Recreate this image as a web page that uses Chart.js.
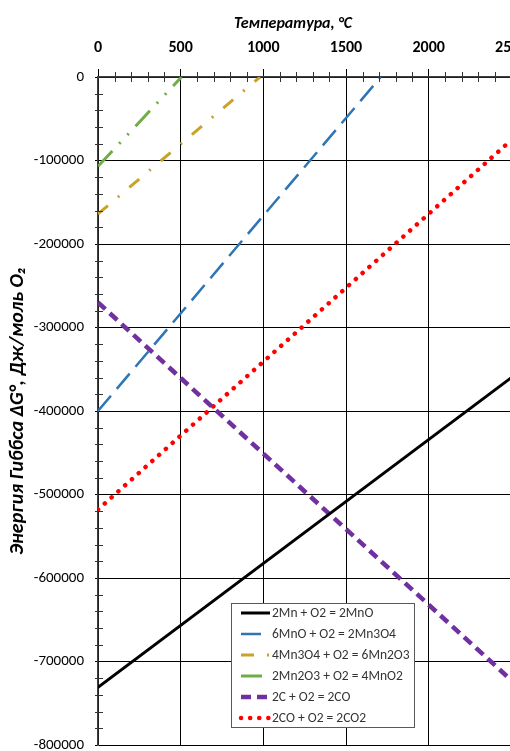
<!DOCTYPE html>
<html>
<head>
<meta charset="utf-8">
<script src="https://cdn.jsdelivr.net/npm/chart.js@4.4.1/dist/chart.umd.min.js"></script>
<style>
  html, body { margin: 0; padding: 0; background: #fff; overflow: hidden; }
  #gibbs { display: block; }
</style>
</head>
<body>
<canvas id="gibbs" width="600" height="751"></canvas>
<script>
// ===== Data =====
const seriesLabels = [
  '2Mn + O2 = 2MnO',
  '6MnO + O2 = 2Mn3O4',
  '4Mn3O4 + O2 = 6Mn2O3',
  '2Mn2O3 + O2 = 4MnO2',
  '2C + O2 = 2CO',
  '2CO + O2 = 2CO2'
];
const mnoT = [0, 2500];
const mnoG = [-731000, -360000];
const mn3o4T = [0, 1710];
const mn3o4G = [-400000, 0];
const mn2o3T = [0, 980];
const mn2o3G = [-164000, 0];
const mno2T = [0, 505];
const mno2G = [-107000, 0];
const coT = [0, 2500];
const coG = [-270000, -722500];
const co2T = [0, 2500];
const co2G = [-518000, -75500];

const tempTicks = [0, 500, 1000, 1500, 2000, 2500, 3000];
const energyTicks = [0, -100000, -200000, -300000, -400000, -500000, -600000, -700000, -800000];

const FONT = 'Carlito, Lato, sans-serif';
const NARROW = '"Liberation Sans Narrow", Carlito, Lato, sans-serif';

function pts(xs, ys) {
  return xs.map((x, i) => ({ x: x, y: ys[i] }));
}

const styles = [
  { color: '#000000', width: 3, dash: [] },
  { color: '#2e75b6', width: 2.5, dash: [20, 9] },
  { color: '#c9a227', width: 3, dash: [13, 13, 2, 13] },
  { color: '#70ad47', width: 3, dash: [21, 10, 2, 10, 2, 10] },
  { color: '#7030a0', width: 4.5, dash: [10, 6] },
  { color: '#ff0000', width: 4.5, dash: [0.1, 9], cap: 'round' }
];
const xs = [mnoT, mn3o4T, mn2o3T, mno2T, coT, co2T];
const ys = [mnoG, mn3o4G, mn2o3G, mno2G, coG, co2G];

const datasets = seriesLabels.map((label, i) => ({
  label: label,
  data: pts(xs[i], ys[i]),
  showLine: true,
  borderColor: styles[i].color,
  backgroundColor: styles[i].color,
  borderWidth: styles[i].width,
  borderDash: styles[i].dash,
  borderCapStyle: styles[i].cap || 'butt',
  pointRadius: 0
}));

/* ===== minor ticks, titles, legend ===== */
const decor = {
  id: 'decor',
  afterDraw(chart) {
    const ctx = chart.ctx;
    const xS = chart.scales.x, yS = chart.scales.y;
    const a = chart.chartArea;
    ctx.save();
    ctx.strokeStyle = '#333';
    ctx.lineWidth = 1;
    for (let t = 100; t < 3000; t += 100) {
      if (t % 500 === 0) continue;
      const px = Math.round(xS.getPixelForValue(t)) + 0.5;
      ctx.beginPath();
      ctx.moveTo(px, a.top - 5);
      ctx.lineTo(px, a.top + 5);
      ctx.stroke();
    }
    for (let g = -20000; g > -800000; g -= 20000) {
      if (g % 100000 === 0) continue;
      const py = Math.round(yS.getPixelForValue(g)) + 0.5;
      ctx.beginPath();
      ctx.moveTo(a.left - 3, py);
      ctx.lineTo(a.left + 5, py);
      ctx.stroke();
    }

    // axis titles
    ctx.fillStyle = '#000';
    ctx.font = 'italic bold 16px ' + FONT;
    ctx.textAlign = 'center';
    ctx.textBaseline = 'middle';
    ctx.fillText('Температура, °C', 293, 24);
    ctx.save();
    ctx.translate(18, 411);
    ctx.rotate(-Math.PI / 2);
    ctx.font = 'italic bold 20px ' + FONT;
    ctx.fillText('Энергия Гиббса ΔG°, Дж/моль O\u2082', 0, 0);
    ctx.restore();

    // legend box
    const lx = 231, ly = 603, lw = 183, lh = 124;
    ctx.fillStyle = '#fff';
    ctx.fillRect(lx, ly, lw, lh);
    ctx.strokeStyle = '#595959';
    ctx.lineWidth = 1;
    ctx.strokeRect(lx + 0.5, ly + 0.5, lw, lh);
    ctx.font = '13.5px ' + FONT;
    ctx.textAlign = 'left';
    datasets.forEach((ds, i) => {
      const yy = 613 + i * 21;
      ctx.save();
      ctx.strokeStyle = ds.borderColor;
      ctx.lineWidth = ds.borderWidth;
      ctx.setLineDash(ds.borderDash);
      ctx.lineCap = ds.borderCapStyle;
      ctx.beginPath();
      ctx.moveTo(241, yy);
      ctx.lineTo(270, yy);
      ctx.stroke();
      ctx.restore();
      ctx.fillStyle = '#333';
      ctx.fillText(ds.label, 272, yy + 1);
    });
    ctx.restore();
  }
};

new Chart(document.getElementById('gibbs'), {
  type: 'scatter',
  data: { datasets: datasets },
  plugins: [decor],
  options: {
    responsive: false,
    animation: false,
    layout: { autoPadding: false, padding: { top: 0, left: 0, right: 6, bottom: 6 } },
    plugins: { legend: { display: false }, tooltip: { enabled: false } },
    scales: {
      x: {
        type: 'linear',
        position: 'top',
        min: 0,
        max: 3000,
        afterFit(scale) {
          scale.height = 77;
          scale.paddingLeft = 0;
          scale.paddingRight = 0;
        },
        afterBuildTicks(scale) { scale.ticks = tempTicks.map(v => ({ value: v })); },
        grid: { color: '#000', lineWidth: 1, tickLength: 8, tickColor: '#000' },
        border: { color: '#404040', width: 1.5 },
        ticks: {
          padding: 11,
          color: '#000',
          font: { family: FONT, size: 16, weight: 'bold' },
          callback: v => String(v)
        }
      },
      y: {
        type: 'linear',
        min: -800000,
        max: 0,
        afterFit(scale) {
          scale.width = 98;
          scale.paddingTop = 0;
          scale.paddingBottom = 0;
        },
        afterBuildTicks(scale) { scale.ticks = energyTicks.map(v => ({ value: v })); },
        grid: { color: '#000', lineWidth: 1, tickLength: 3, tickColor: '#000' },
        border: { color: '#404040', width: 1.5 },
        ticks: {
          padding: 11,
          color: '#000',
          font: { family: NARROW, size: 15 },
          callback: v => String(v)
        }
      }
    }
  }
});
</script>
</body>
</html>
